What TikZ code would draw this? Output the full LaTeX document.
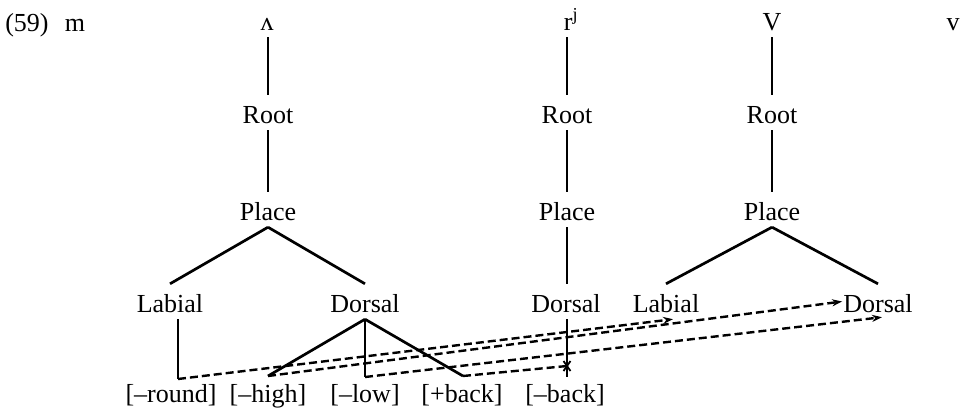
\documentclass[tikz,border=0pt]{standalone}
\usepackage{fontspec}
\setmainfont{Liberation Serif}
\usetikzlibrary{arrows.meta}
\begin{document}
\begin{tikzpicture}[x=1pt,y=-1pt,
  lbl/.style={font=\fontsize{26}{30}\selectfont, inner xsep=1pt, inner ysep=4pt,
              text height=24pt, text depth=3pt, anchor=base},
  feat/.style={font=\fontsize{26}{30}\selectfont, inner sep=0pt, anchor=base},
  tree/.style={line width=2.7pt},
  dsh/.style={line width=2.4pt, dash pattern=on 8pt off 4pt},
  assoc/.style={dsh, -{Stealth[length=10pt,width=7pt]}},
  cutmark/.style={line width=1.8pt}]
\path[use as bounding box] (0,0) rectangle (962,408);

% top row
\node[lbl] (num) at (27,31) {(59)};
\node[lbl] (m)   at (75,31) {m};
\node[lbl] (s1)  at (267,30) {ʌ};
\node[lbl] (s2)  at (571,30) {r\textsuperscript{j}};
\node[lbl] (s3)  at (772,30) {V};
\node[lbl] (s4)  at (953,30) {v};

% Root / Place
\node[lbl] (root1)  at (268,123) {Root};
\node[lbl] (root2)  at (567,123) {Root};
\node[lbl] (root3)  at (772,123) {Root};
\node[lbl] (place1) at (268,220) {Place};
\node[lbl] (place2) at (567,220) {Place};
\node[lbl] (place3) at (772,220) {Place};

% articulators
\node[lbl] (lab1) at (170,312) {Labial};
\node[lbl] (dor1) at (365,312) {Dorsal};
\node[lbl] (dorm) at (566,312) {Dorsal};
\node[lbl] (lab2) at (666,312) {Labial};
\node[lbl] (dor2) at (878,312) {Dorsal};

% features
\node[feat] (fround) at (171,402) {[–round]};
\node[feat] (fhigh)  at (268,402) {[–high]};
\node[feat] (flow)   at (365,402) {[–low]};
\node[feat] (fback)  at (462,402) {[+back]};
\node[feat] (fnback) at (565,402) {[–back]};

% feature attachment points
\coordinate (round) at (178,379);
\coordinate (high)  at (268,376);
\coordinate (low)   at (365,377);
\coordinate (bk)    at (463,376);
\coordinate (nb)    at (567,377);
\coordinate (cut)   at (567,366);

% column 1
\draw[tree] (root1.north |- s1.south) -- (root1.north);
\draw[tree] (root1.south) -- (place1.north);
\draw[tree] (place1.south) -- (lab1.north);
\draw[tree] (place1.south) -- (dor1.north);
\draw[tree] (lab1.south -| round) -- (round);
\draw[tree] (dor1.south) -- (high);
\draw[tree] (dor1.south) -- (low);
\draw[tree] (dor1.south) -- (bk);

% column 2
\draw[tree] (root2.north |- s2.south) -- (root2.north);
\draw[tree] (root2.south) -- (place2.north);
\draw[tree] (place2.south) -- (dorm.north -| place2.south);
\draw[tree] (dorm.south -| nb) -- (nb);

% column 3
\draw[tree] (root3.north |- s3.south) -- (root3.north);
\draw[tree] (root3.south) -- (place3.north);
\draw[tree] (place3.south) -- (lab2.north);
\draw[tree] (place3.south) -- (dor2.north);

% spreading (dashed)
\draw[assoc] (round) -- ([xshift=7pt]lab2.south);
\draw[assoc] (high) -- (dor2.west);
\draw[assoc] (low) -- ([xshift=4pt,yshift=2pt]dor2.south);
\draw[dsh] (bk) -- (cut);

% delinking mark
\draw[cutmark] ([shift={(-3.5,-5)}]cut) -- ([shift={(3.5,5)}]cut);
\draw[cutmark] ([shift={(-3.5,5)}]cut) -- ([shift={(3.5,-5)}]cut);
\end{tikzpicture}
\end{document}
